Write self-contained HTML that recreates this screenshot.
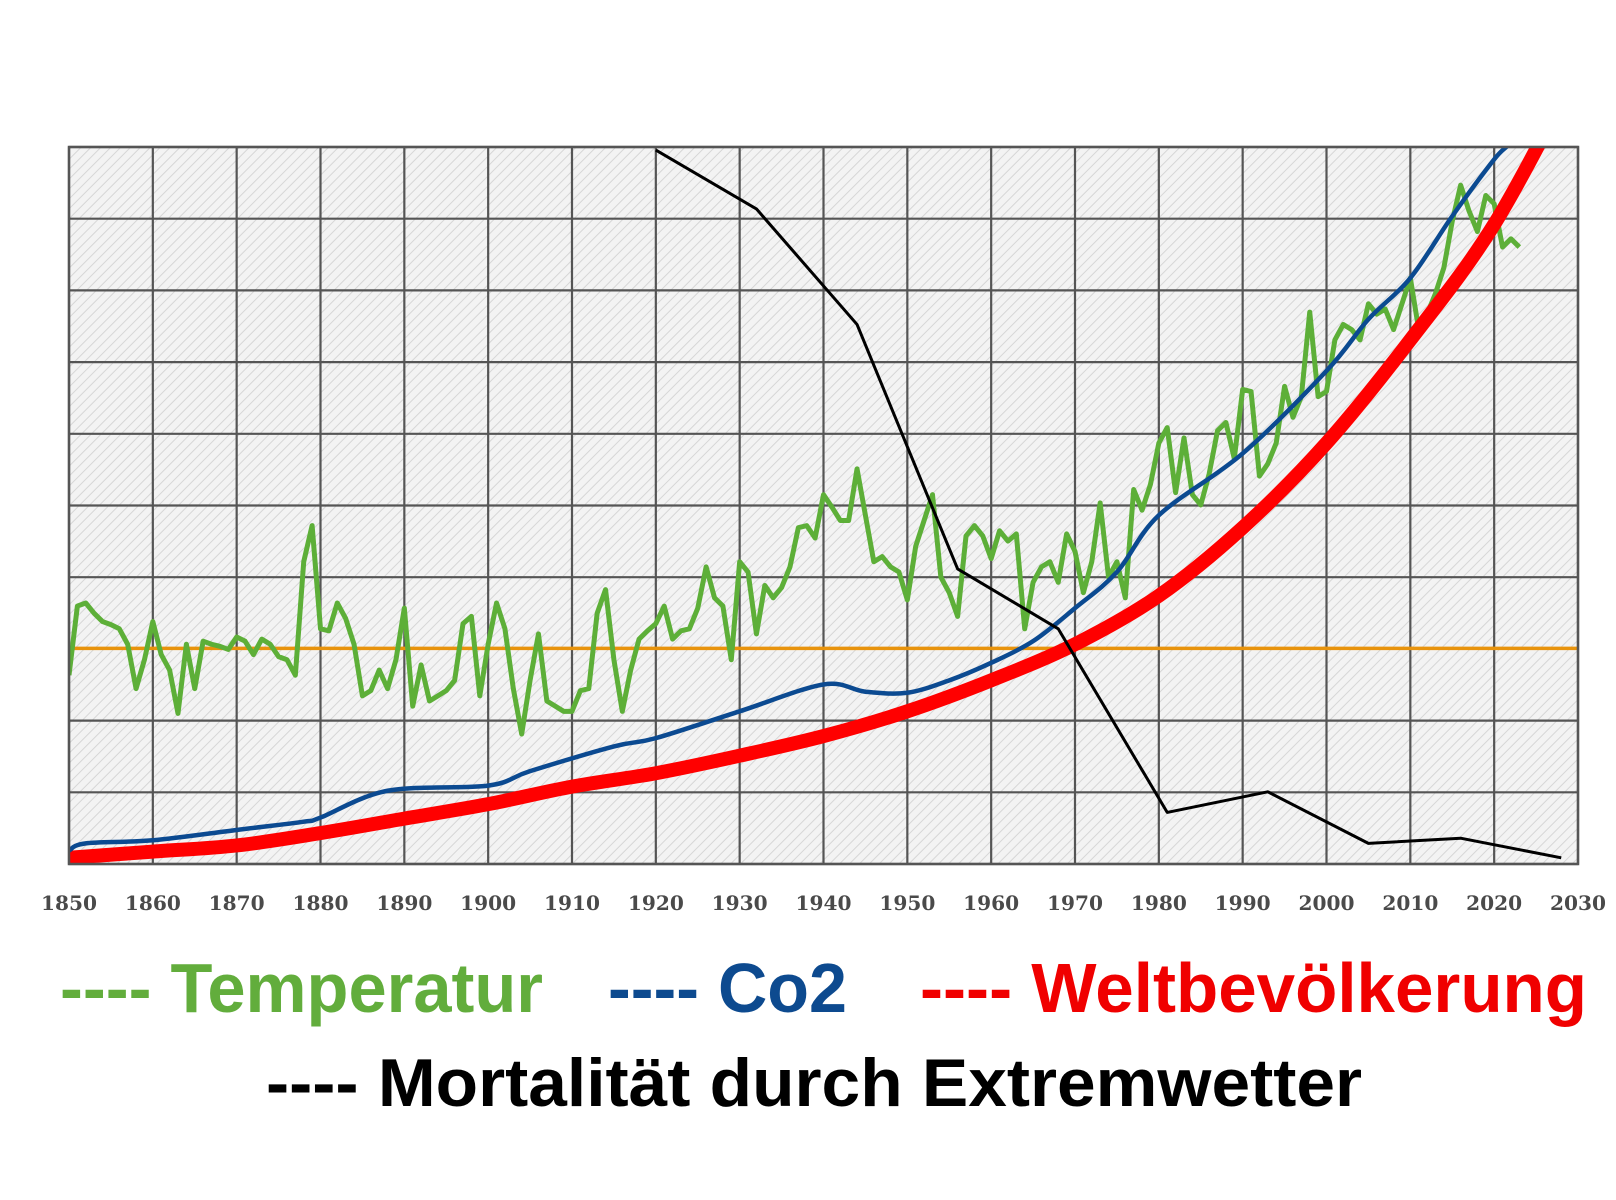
<!DOCTYPE html>
<html><head><meta charset="utf-8"><style>
html,body{margin:0;padding:0;background:#fff;}
svg{display:block;}
</style></head>
<body>
<svg id="chart" width="1616" height="1200" viewBox="0 0 1616 1200" xmlns="http://www.w3.org/2000/svg">
<defs>
<pattern id="hatch" patternUnits="userSpaceOnUse" width="7" height="7" patternTransform="rotate(45)">
<rect width="7" height="7" fill="#f3f3f3"/>
<line x1="0" y1="0" x2="0" y2="7" stroke="#d6d6d6" stroke-width="2"/>
</pattern>
<clipPath id="plotclip"><rect x="69" y="147" width="1509" height="717"/></clipPath>
</defs>
<rect x="69" y="147" width="1509" height="717" fill="url(#hatch)"/>
<g id="grid"></g>
<g id="series" clip-path="url(#plotclip)"></g>
<rect x="69" y="147" width="1509" height="717" fill="none" stroke="#555" stroke-width="2.5"/>
<g id="xticks"></g>
<g id="legend" font-family="'Liberation Sans', sans-serif" font-weight="bold">
<text x="60" y="1012" font-size="70" fill="#62ad3c" textLength="483" lengthAdjust="spacingAndGlyphs">---- Temperatur</text>
<text x="608" y="1012" font-size="70" fill="#0d4a8f" textLength="239" lengthAdjust="spacingAndGlyphs">---- Co2</text>
<text x="920" y="1012" font-size="70" fill="#f00000" textLength="667" lengthAdjust="spacingAndGlyphs">---- Weltbevölkerung</text>
<text x="266" y="1106" font-size="68" fill="#000" textLength="1096" lengthAdjust="spacingAndGlyphs">---- Mortalität durch Extremwetter</text>
</g>
</svg>
<script>
const xTickLabels = ["1850","1860","1870","1880","1890","1900","1910","1920","1930","1940","1950","1960","1970","1980","1990","2000","2010","2020","2030"];
const yGridValues = [0,69.5,139,208.5,278,347.5,417,486.5,556,625.5,695];
const referenceLevel = 209;
const tempStart = 1850;
const tempValues = [183,250,253,243,235,232,228,213,170,198,
235,203,188,146,213,170,216,213,211,208,
220,216,203,218,213,201,198,183,293,328,
228,226,253,238,213,163,168,188,170,198,
248,153,193,158,163,168,178,233,240,163,
213,253,228,170,126,178,223,158,153,148,
148,168,170,243,266,198,148,188,218,226,
233,250,218,226,228,248,288,258,250,198,
293,283,223,270,258,268,288,326,328,316,
358,346,333,333,383,338,293,298,288,283,
256,308,333,358,278,263,240,318,328,318,
296,323,313,320,228,273,288,293,273,320,
303,263,293,350,278,293,258,363,343,368,
408,423,360,413,358,348,378,420,428,393,
460,458,376,388,408,463,433,453,535,453,
458,508,523,518,508,543,533,538,518,543,
568,518,533,553,578,623,658,633,613,648,
640,598,606,598];
const co2Years = [1850,1852,1860,1870,1878,1880,1888,1900,1905,1915,1920,1930,1940,1945,1950,1955,1960,1965,1970,1975,1980,1990,2000,2005,2010,2015,2020,2022,2025];
const co2Values = [13,20,23,33,41,45,71,76,90,114,122,148,174,167,166,178,195,216,248,283,338,398,478,528,568,628,683,700,735];
const popYears = [1850,1860,1870,1880,1890,1900,1910,1920,1930,1940,1950,1960,1970,1980,1990,2000,2010,2020,2030];
const popValues = [6,12,18,30,44,58,75,88,105,124,148,178,213,260,326,408,508,620,770];
const mortYears = [1920,1932,1944,1956,1968,1981,1993,2005,2016,2028];
const mortValues = [692,635,523,286,228,50,70,20,25,6];

const NS = "http://www.w3.org/2000/svg";
const X0 = 69, X1 = 1578, Y0 = 864, Y1 = 147;
function xScale(yr){ return X0 + (yr - 1850) * (X1 - X0) / 180; }
function yScale(v){ return Y0 - v * (Y0 - Y1) / 695; }
function mk(tag, attrs){ const e = document.createElementNS(NS, tag); for (const k in attrs) e.setAttribute(k, attrs[k]); return e; }

const grid = document.getElementById('grid');
xTickLabels.forEach((lab) => {
  const x = xScale(+lab);
  const l = mk('line', {x1:x, x2:x, y1:Y1, y2:Y0, stroke:'#555', 'stroke-width':2.2});
  
  
  grid.appendChild(l);
});
yGridValues.forEach((v) => {
  const y = yScale(v);
  const l = mk('line', {x1:X0, x2:X1, y1:y, y2:y, stroke:'#555', 'stroke-width':2.2});
  
  
  grid.appendChild(l);
});

const xt = document.getElementById('xticks');
xTickLabels.forEach((lab) => {
  const t = mk('text', {x:xScale(+lab), y:910, 'text-anchor':'middle', 'font-family':"'DejaVu Serif', serif", 'font-size':20, 'font-weight':'bold', fill:'#4a4a4a', textLength:56, lengthAdjust:'spacingAndGlyphs'});
  t.textContent = lab;
  
  
  xt.appendChild(t);
});

function smoothPath(pts){
  let d = 'M' + pts[0][0] + ',' + pts[0][1];
  for (let i = 0; i < pts.length - 1; i++) {
    const p0 = pts[Math.max(0, i-1)], p1 = pts[i], p2 = pts[i+1], p3 = pts[Math.min(pts.length-1, i+2)];
    const c1x = p1[0] + (p2[0]-p0[0])/6, c1y = p1[1] + (p2[1]-p0[1])/6;
    const c2x = p2[0] - (p3[0]-p1[0])/6, c2y = p2[1] - (p3[1]-p1[1])/6;
    d += ' C' + c1x + ',' + c1y + ' ' + c2x + ',' + c2y + ' ' + p2[0] + ',' + p2[1];
  }
  return d;
}
const series = document.getElementById('series');

const ref = mk('line', {x1:X0, x2:X1, y1:yScale(referenceLevel), y2:yScale(referenceLevel), stroke:'#e8930c', 'stroke-width':3.5});


series.appendChild(ref);

const tempPts = tempValues.map((v, i) => xScale(tempStart + i) + ',' + yScale(v)).join(' ');
const temp = mk('polyline', {points:tempPts, fill:'none', stroke:'#5daf38', 'stroke-width':5, 'stroke-linejoin':'round'});


series.appendChild(temp);

const pop = mk('path', {d:smoothPath(popYears.map((yr,i)=>[xScale(yr), yScale(popValues[i])])), fill:'none', stroke:'#ff0000', 'stroke-width':14, 'stroke-linecap':'round'});


series.appendChild(pop);

const co2 = mk('path', {d:smoothPath(co2Years.map((yr,i)=>[xScale(yr), yScale(co2Values[i])])), fill:'none', stroke:'#0b4a91', 'stroke-width':4.5});


series.appendChild(co2);

const mortPts = mortYears.map((yr, i) => xScale(yr) + ',' + yScale(mortValues[i])).join(' ');
const mort = mk('polyline', {points:mortPts, fill:'none', stroke:'#000', 'stroke-width':3, 'stroke-linejoin':'round'});


series.appendChild(mort);
</script>
</body></html>
